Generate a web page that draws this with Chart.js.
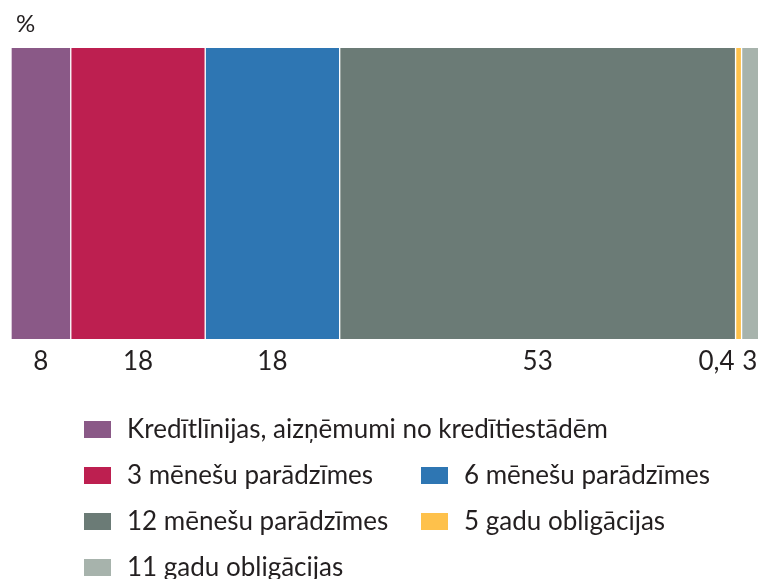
<!DOCTYPE html>
<html>
<head>
<meta charset="utf-8">
<script src="https://cdn.jsdelivr.net/npm/chart.js@4.4.0/dist/chart.umd.min.js"></script>
<style>
  body { margin: 0; background: #fff; }
  #wrap { width: 758px; height: 579px; position: relative; }
</style>
</head>
<body>
<div id="wrap"><canvas id="shares"></canvas></div>
<script>
// debt structure, % of total
var categories = ['Kredītlīnijas, aizņēmumi no kredītiestādēm', '3 mēnešu parādzīmes', '6 mēnešu parādzīmes',
                  '12 mēnešu parādzīmes', '5 gadu obligācijas', '11 gadu obligācijas'];
var shares = [8, 18, 18, 53, 0.4, 3];
var colours = ['#8a5987', '#bd1f50', '#2e76b3', '#6b7b76', '#fec14b', '#a7b3ac'];
var unitLabel = '%';

var fontName = 'Lato, "Open Sans", sans-serif';
var textColour = '#231f20';

// legend grid: [column, row] for every series
var legendSlots = [[0, 0], [0, 1], [1, 1], [0, 2], [1, 2], [0, 3]];

var valueLabels = {
  id: 'valueLabels',
  afterDatasetsDraw: function(chart) {
    var c = chart.ctx;
    var area = chart.chartArea;
    c.save();
    c.fillStyle = textColour;
    c.font = '26px ' + fontName;
    chart.data.datasets.forEach(function(ds, i) {
      var bar = chart.getDatasetMeta(i).data[0];
      var left = Math.min(bar.base, bar.x);
      var right = Math.min(Math.max(bar.base, bar.x), area.right);
      var txt = String(ds.data[0]).replace('.', ',');
      var y = area.bottom + 31;
      if (right - left < 10) {
        c.textAlign = 'right';
        c.fillText(txt, left - 1, y);
      } else {
        c.textAlign = 'center';
        c.fillText(txt, (left + right) / 2, y);
      }
    });
    c.textAlign = 'left';
    c.font = '24px ' + fontName;
    c.fillText(unitLabel, 16, 32);
    c.restore();
  }
};

var sideLegend = {
  id: 'sideLegend',
  afterDraw: function(chart) {
    var c = chart.ctx;
    c.save();
    c.font = '26px ' + fontName;
    c.textAlign = 'left';
    chart.data.datasets.forEach(function(ds, i) {
      var slot = legendSlots[i];
      var x = 84 + slot[0] * 337;
      var top = 421 + slot[1] * 46;
      c.fillStyle = ds.backgroundColor;
      c.fillRect(x, top, 27, 17);
      c.fillStyle = textColour;
      c.fillText(ds.label, x + 43, top + 17);
    });
    c.restore();
  }
};

var datasets = categories.map(function(name, i) {
  return {
    label: name,
    data: [shares[i]],
    backgroundColor: colours[i],
    borderColor: '#ffffff',
    borderWidth: { left: 1, right: 1, top: 0, bottom: 0 },
    borderSkipped: false,
    minBarLength: 6
  };
});

new Chart(document.getElementById('shares').getContext('2d'), {
  type: 'bar',
  data: { labels: [''], datasets: datasets },
  options: {
    indexAxis: 'y',
    responsive: true,
    maintainAspectRatio: false,
    animation: false,
    barPercentage: 1,
    categoryPercentage: 1,
    layout: { padding: { left: 11, top: 48, right: 0, bottom: 240 } },
    scales: {
      x: { stacked: true, min: 0, max: 100, display: false },
      y: { stacked: true, display: false }
    },
    plugins: {
      legend: { display: false },
      tooltip: { enabled: false }
    }
  },
  plugins: [valueLabels, sideLegend]
});
</script>
</body>
</html>
